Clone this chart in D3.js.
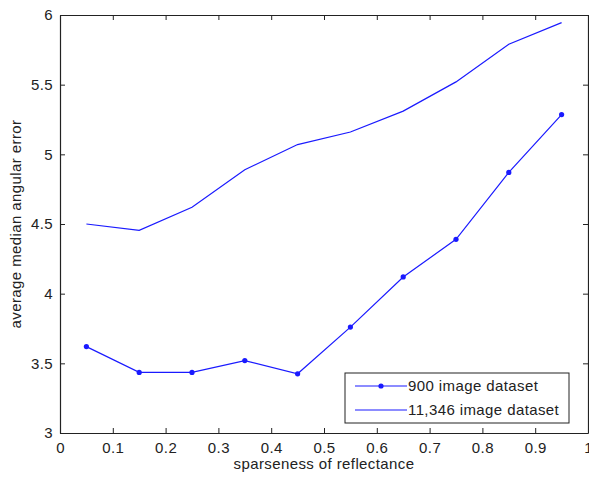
<!DOCTYPE html>
<html>
<head>
<meta charset="utf-8">
<script src="https://cdn.jsdelivr.net/npm/d3@7"></script>
<style>
body { margin: 0; background: #fff; }
svg { display: block; }
text { font-family: "Liberation Sans", Arial, sans-serif; fill: #222; letter-spacing: 0.4px; }
</style>
</head>
<body>
<div id="chart"></div>
<script>
// data
let sparseness = [0.05, 0.15, 0.25, 0.35, 0.45, 0.55, 0.65, 0.75, 0.85, 0.95];
let small_set = [3.62, 3.435, 3.435, 3.52, 3.425, 3.76, 4.12, 4.39, 4.87, 5.285];
let large_set = [4.5, 4.455, 4.62, 4.89, 5.07, 5.16, 5.31, 5.52, 5.79, 5.945];
let xTicks = [0, 0.1, 0.2, 0.3, 0.4, 0.5, 0.6, 0.7, 0.8, 0.9, 1];
let yTicks = [3, 3.5, 4, 4.5, 5, 5.5, 6];
let seriesNames = ['900 image dataset', '11,346 image dataset'];

renderChart();

function renderChart() {
	let width = 589, height = 479;
	let margin = {'left': 60, 'top': 15, 'right': 1, 'bottom': 46};
	let fontSize = '15px';

	let svg = d3.select('#chart').append('svg')
		.attr('width', width)
		.attr('height', height);

	let x = d3.scaleLinear().domain([0, 1]).range([margin.left, width - margin.right]);
	let y = d3.scaleLinear().domain([3, 6]).range([height - margin.bottom, margin.top]);

	//axes, matlab style: ticks inside, on all four sides
	let tickLen = 5;
	svg.append('g')
		.attr('transform', 'translate(0,' + y(3) + ')')
		.call(d3.axisBottom(x).tickValues(xTicks).tickSizeInner(-tickLen).tickSizeOuter(0).tickPadding(9)
			.tickFormat(d => d === 0 ? '0' : d3.format('.1~f')(d)));
	svg.append('g')
		.attr('transform', 'translate(0,' + y(6) + ')')
		.call(d3.axisTop(x).tickValues(xTicks).tickSizeInner(-tickLen).tickSizeOuter(0).tickFormat(''));
	svg.append('g')
		.attr('transform', 'translate(' + x(0) + ',0)')
		.call(d3.axisLeft(y).tickValues(yTicks).tickSizeInner(-tickLen).tickSizeOuter(0).tickPadding(7)
			.tickFormat(d3.format('~g')));
	svg.append('g')
		.attr('transform', 'translate(' + x(1) + ',0)')
		.call(d3.axisRight(y).tickValues(yTicks).tickSizeInner(-tickLen).tickSizeOuter(0).tickFormat(''));

	svg.selectAll('.domain').attr('stroke', '#222').attr('stroke-width', 1.2);
	svg.selectAll('.tick line').attr('stroke', '#222');
	svg.selectAll('.tick text').style('font-size', fontSize).attr('fill', '#222');

	//axis labels
	svg.append('text')
		.attr('x', (x(0) + x(1)) / 2)
		.attr('y', 469)
		.attr('text-anchor', 'middle')
		.style('font-size', fontSize)
		.text('sparseness of reflectance');
	svg.append('text')
		.attr('transform', 'translate(21,' + ((y(3) + y(6)) / 2) + ') rotate(-90)')
		.attr('text-anchor', 'middle')
		.style('font-size', fontSize)
		.text('average median angular error');

	let line = d3.line()
		.x((d, i) => x(sparseness[i]))
		.y(d => y(d));

	let blue = '#1a1aff';
	svg.append('path')
		.attr('d', line(large_set))
		.attr('fill', 'none')
		.attr('stroke', blue)
		.attr('stroke-width', 1.2);
	svg.append('path')
		.attr('d', line(small_set))
		.attr('fill', 'none')
		.attr('stroke', blue)
		.attr('stroke-width', 1.2);
	svg.append('g').selectAll('circle')
		.data(small_set)
		.join('circle')
		.attr('cx', (d, i) => x(sparseness[i]))
		.attr('cy', d => y(d))
		.attr('r', 2.6)
		.attr('fill', blue);

	//legend
	let lg = svg.append('g').attr('transform', 'translate(345,373)');
	lg.append('rect')
		.attr('width', 224)
		.attr('height', 50)
		.attr('fill', '#fff')
		.attr('stroke', '#222')
		.attr('stroke-width', 1);
	seriesNames.forEach(function(name, i) {
		let ly = 13 + i * 24;
		lg.append('line')
			.attr('x1', 10).attr('x2', 62)
			.attr('y1', ly).attr('y2', ly)
			.attr('stroke', blue)
			.attr('stroke-width', 1.2);
		if (i === 0) {
			lg.append('circle').attr('cx', 36).attr('cy', ly).attr('r', 2.6).attr('fill', blue);
		}
		lg.append('text')
			.attr('x', 63)
			.attr('y', ly + 5)
			.style('font-size', fontSize)
			.text(name);
	});
}
</script>
</body>
</html>
